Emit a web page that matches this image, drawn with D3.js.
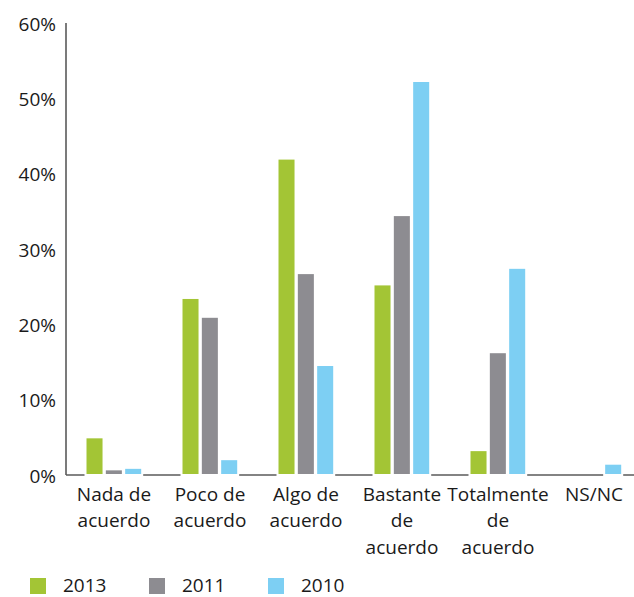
<!DOCTYPE html>
<html>
<head>
<meta charset="utf-8">
<script src="https://cdn.jsdelivr.net/npm/d3@7"></script>
<style>
  body { margin: 0; background: #fff; }
  text { font-family: "Open Sans", sans-serif; fill: #1a1a1a; }
</style>
</head>
<body>
<div id="chart"></div>
<script>
// data
var categories = [
  ["Nada de", "acuerdo"],
  ["Poco de", "acuerdo"],
  ["Algo de", "acuerdo"],
  ["Bastante", "de", "acuerdo"],
  ["Totalmente", "de", "acuerdo"],
  ["NS/NC"]
];
var series = ["2013", "2011", "2010"];
var values2013 = [5.0, 23.5, 42.0, 25.3, 3.3, 0];
var values2011 = [0.75, 21.0, 26.8, 34.5, 16.3, 0];
var values2010 = [0.95, 2.1, 14.6, 52.3, 27.5, 1.5];
var yTicks = [0, 10, 20, 30, 40, 50, 60];
var colors = ["#a3c535", "#8d8c91", "#7dcff3"];

var allValues = [values2013, values2011, values2010];
var catKeys = categories.map(function(c) { return c.join(" "); });

// chart
var width = 634, height = 597;
var plotLeft = 66, plotRight = 642, plotTop = 23, plotBottom = 475;

var svg = d3.select("#chart").append("svg")
  .attr("width", width)
  .attr("height", height);

var x0 = d3.scaleBand().domain(catKeys).range([plotLeft, plotRight]);
var x1 = d3.scaleBand().domain(series).range([19.5, 77.5]);
var y = d3.scaleLinear().domain([0, 60]).range([plotBottom, plotTop]);

// baseline (bars' white outline breaks it under each group)
svg.append("line")
  .attr("x1", plotLeft).attr("x2", width)
  .attr("y1", y(0)).attr("y2", y(0))
  .attr("stroke", "#5a5a5a")
  .attr("stroke-width", 1.4);

// y axis line
svg.append("line")
  .attr("x1", plotLeft).attr("x2", plotLeft)
  .attr("y1", y(60)).attr("y2", y(0))
  .attr("stroke", "#5a5a5a")
  .attr("stroke-width", 1.6);

svg.selectAll("text.ytick")
  .data(yTicks)
  .enter().append("text")
  .attr("class", "ytick")
  .attr("x", plotLeft - 10)
  .attr("y", function(d) { return y(d) + 2.5; })
  .attr("text-anchor", "end")
  .attr("dominant-baseline", "middle")
  .style("font-size", "19px")
  .text(function(d) { return d + "%"; });

// bars
var groups = svg.selectAll("g.group")
  .data(catKeys)
  .enter().append("g")
  .attr("class", "group")
  .attr("transform", function(d) { return "translate(" + x0(d) + ",0)"; });

groups.selectAll("rect")
  .data(function(d, i) {
    return series.map(function(s, j) {
      return { s: s, v: allValues[j][i], c: colors[j] };
    });
  })
  .enter().append("rect")
  .attr("x", function(d) { return x1(d.s); })
  .attr("width", x1.bandwidth() - 1.3)
  .attr("y", function(d) { return y(d.v); })
  .attr("height", function(d) { return y(0) - y(d.v); })
  .style("fill", function(d) { return d.c; })
  .style("stroke", "#fff")
  .style("stroke-width", 2);

// category labels
svg.selectAll("text.cat")
  .data(categories)
  .enter().append("text")
  .attr("class", "cat")
  .attr("x", function(d, i) { return x0(catKeys[i]) + x0.bandwidth() / 2; })
  .attr("y", 500.5)
  .attr("text-anchor", "middle")
  .style("font-size", "19px")
  .selectAll("tspan")
  .data(function(d) { return d; })
  .enter().append("tspan")
  .attr("x", function() { return d3.select(this.parentNode).attr("x"); })
  .attr("dy", function(d, i) { return i === 0 ? 0 : 26.5; })
  .text(function(d) { return d; });

// legend
var legend = svg.selectAll("g.legend")
  .data(series)
  .enter().append("g")
  .attr("class", "legend")
  .attr("transform", function(d, i) { return "translate(" + (30 + i * 119) + ",578)"; });

legend.append("rect")
  .attr("width", 16).attr("height", 16)
  .style("fill", function(d, i) { return colors[i]; });

legend.append("text")
  .attr("x", 33)
  .attr("y", 14)
  .style("font-size", "19px")
  .text(function(d) { return d; });
</script>
</body>
</html>
